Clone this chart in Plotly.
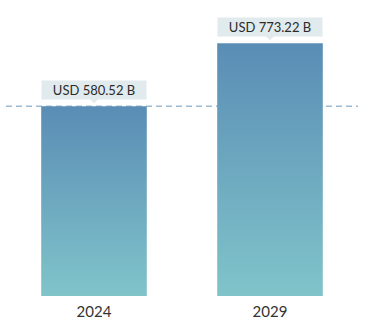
import plotly.graph_objects as go

categories = ["2024", "2029"]
values = [580.52, 773.22]
labels = ["USD 580.52 B", "USD 773.22 B"]

TOP = "#5a8db5"
BOTTOM = "#80c4ca"
BOX = "#e1eaed"
HALF = 0.3

fig = go.Figure()
for i, v in enumerate(values):
    fig.add_trace(go.Scatter(
        x=[i - HALF, i + HALF, i + HALF, i - HALF, i - HALF],
        y=[0, 0, v, v, 0],
        mode="lines",
        line=dict(width=0),
        fill="toself",
        fillgradient=dict(type="vertical", colorscale=[[0, BOTTOM], [1, TOP]]),
        hoverinfo="skip",
        showlegend=False,
    ))

# dashed reference line at first value
fig.add_hline(y=values[0], line=dict(color="#9dbad0", width=1.5, dash="6px,4px"), layer="below")

for i, (v, t) in enumerate(zip(values, labels)):
    fig.add_annotation(x=i, y=v, text=t, showarrow=True, ax=0, ay=-16,
                       xanchor="center", yanchor="middle",
                       arrowhead=1, arrowsize=1.4, arrowwidth=1.2, arrowcolor=BOX,
                       standoff=3,
                       bgcolor=BOX, width=100, height=14, borderpad=2,
                       font=dict(family="Lato", size=13, color="#2b2b2b"))

fig.update_layout(
    width=377, height=330,
    margin=dict(l=6, r=19, t=10, b=34),
    paper_bgcolor="white", plot_bgcolor="white",
    xaxis=dict(range=[-0.5, 1.5], tickvals=[0, 1], ticktext=categories,
               showgrid=False, zeroline=False, showline=False, ticks="",
               ticklabelstandoff=5,
               tickfont=dict(family="Lato", size=15, color="#333333")),
    yaxis=dict(range=[0, 875], visible=False, showgrid=False, zeroline=False),
)
fig.write_html("out.html")
